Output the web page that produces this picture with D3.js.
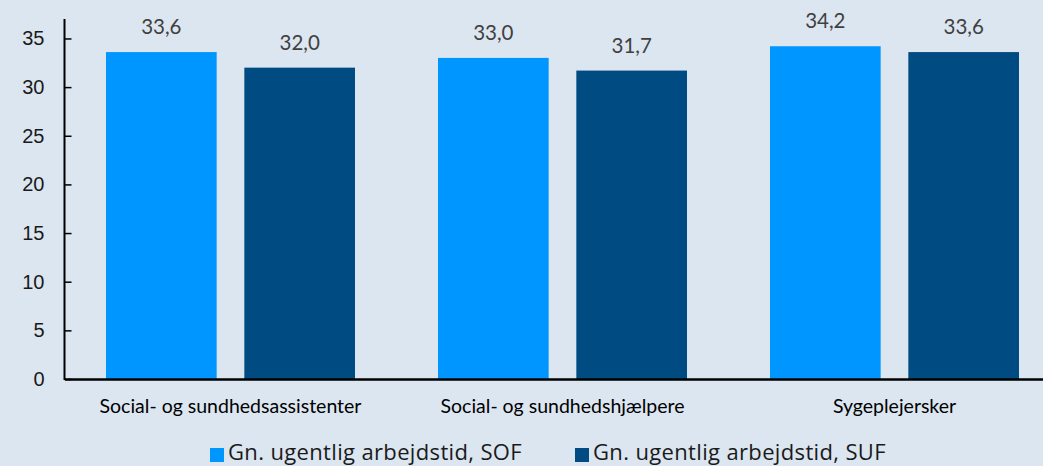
<!DOCTYPE html>
<html>
<head>
<meta charset="utf-8">
<script src="https://cdn.jsdelivr.net/npm/d3@7"></script>
<style>
  html, body { margin: 0; padding: 0; background: #dce6f0; }
  #graphic { width: 1043px; height: 466px; overflow: hidden; }
</style>
</head>
<body>
<div id="graphic"></div>
<script>
// data
var categories = ["Social- og sundhedsassistenter", "Social- og sundhedshjælpere", "Sygeplejersker"];
var seriesNames = ["Gn. ugentlig arbejdstid, SOF", "Gn. ugentlig arbejdstid, SUF"];
var sofValues = [33.6, 33.0, 34.2];
var sufValues = [32.0, 31.7, 33.6];
var yTicks = [0, 5, 10, 15, 20, 25, 30, 35];
var colors = ["#0096ff", "#004b82"];

var rows = categories.map(function (c, i) {
  return { cat: c, vals: [sofValues[i], sufValues[i]] };
});

var svg = d3.select("#graphic").append("svg")
  .attr("width", 1043)
  .attr("height", 466);

// plot area (goes a bit past the right edge like the original)
var x0 = d3.scaleBand().domain(categories).range([64.5, 1060.5]).paddingInner(0).paddingOuter(0);
var x1 = d3.scaleBand().domain([0, 1]).range([41.5, x0.bandwidth() - 41.5]).paddingInner(0.2);
var y = d3.scaleLinear().domain([0, 37]).range([379, 19]);

// bars
var g = svg.selectAll(".grp").data(rows).enter().append("g")
  .attr("transform", function (d) { return "translate(" + x0(d.cat) + ",0)"; });

g.selectAll("rect").data(function (d) { return d.vals; }).enter().append("rect")
  .attr("x", function (d, i) { return x1(i); })
  .attr("y", function (d) { return y(d); })
  .attr("width", x1.bandwidth())
  .attr("height", function (d) { return y(0) - y(d); })
  .attr("fill", function (d, i) { return colors[i]; });

g.selectAll("text.val").data(function (d) { return d.vals; }).enter().append("text")
  .attr("class", "val")
  .attr("x", function (d, i) { return x1(i) + x1.bandwidth() / 2; })
  .attr("y", function (d) { return y(d) - 18; })
  .attr("text-anchor", "middle")
  .attr("font-family", "Lato, 'Open Sans', sans-serif")
  .attr("font-size", "20.5px")
  .attr("fill", "#404040")
  .text(function (d) { return d3.format(".1f")(d).replace(".", ","); });

// y axis
var yAxis = svg.append("g")
  .attr("transform", "translate(64.5,0)")
  .call(d3.axisRight(y).tickValues(yTicks).tickSize(7).tickFormat(d3.format("d")));
yAxis.select(".domain").remove();
yAxis.selectAll(".tick line").attr("stroke", "#000").attr("stroke-width", 1.5);
yAxis.selectAll(".tick text")
  .attr("x", -20)
  .attr("text-anchor", "end")
  .attr("font-family", "'Liberation Sans', Arial, sans-serif")
  .attr("font-size", "20px")
  .attr("fill", "#1a1a1a");

svg.append("line")
  .attr("x1", 64.5).attr("x2", 64.5)
  .attr("y1", 19).attr("y2", y(0) + 1)
  .attr("stroke", "#000").attr("stroke-width", 2);

// x axis
var xAxis = svg.append("g")
  .attr("transform", "translate(0," + y(0) + ")")
  .call(d3.axisBottom(x0).tickSize(0).tickPadding(20));
xAxis.select(".domain").attr("stroke", "#000").attr("stroke-width", 2.5);
xAxis.selectAll(".tick text")
  .attr("font-family", "Lato, 'Open Sans', sans-serif")
  .attr("font-size", "19.5px")
  .attr("fill", "#000");

// legend
var legendX = [210, 575];
var leg = svg.selectAll(".leg").data(seriesNames).enter().append("g")
  .attr("transform", function (d, i) { return "translate(" + legendX[i] + ",448)"; });
leg.append("rect")
  .attr("width", 14).attr("height", 14)
  .attr("fill", function (d, i) { return colors[i]; });
leg.append("text")
  .attr("x", 18).attr("y", 12)
  .attr("font-family", "'Open Sans', 'Liberation Sans', sans-serif")
  .attr("font-size", "22px")
  .attr("letter-spacing", "0.35px")
  .attr("fill", "#1a1a1a")
  .text(function (d) { return d; });
</script>
</body>
</html>
